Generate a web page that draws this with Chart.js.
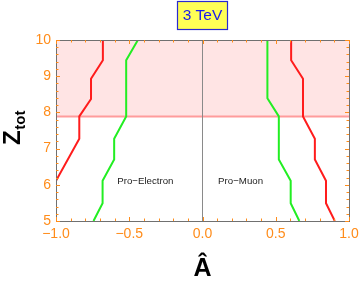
<!DOCTYPE html>
<html>
<head>
<meta charset="utf-8">
<script src="https://cdn.jsdelivr.net/npm/chart.js@4"></script>
<style>
html,body{margin:0;padding:0;background:#fff;}
#wrap{width:360px;height:285px;position:relative;}
</style>
</head>
<body>
<div id="wrap"><canvas id="c" width="360" height="285"></canvas></div>
<script>
// ---- data ----
const redLeftA    = [-0.68, -0.68, -0.761, -0.761, -0.841, -0.841, -1.0];
const redLeftZ    = [10, 9.44, 8.93, 8.37, 7.89, 7.27, 6.11];
const greenLeftA  = [-0.441, -0.521, -0.521, -0.603, -0.603, -0.682, -0.682, -0.744];
const greenLeftZ  = [10, 9.44, 7.89, 7.27, 6.70, 6.11, 5.49, 5];
const greenRightA = [0.443, 0.443, 0.521, 0.521, 0.602, 0.602, 0.661];
const greenRightZ = [10, 8.39, 7.89, 6.70, 6.11, 5.49, 5];
const redRightA   = [0.605, 0.605, 0.686, 0.686, 0.767, 0.767, 0.843, 0.843, 0.903];
const redRightZ   = [10, 9.44, 8.93, 7.89, 7.27, 6.70, 6.11, 5.49, 5];
const thresholdZ  = 7.89;
const xTicks      = [-1.0, -0.5, 0.0, 0.5, 1.0];
const xTickLabels = ['\u22121.0', '\u22120.5', '0.0', '0.5', '1.0'];
const yTicks      = [5, 6, 7, 8, 9, 10];
const yTickLabels = ['5', '6', '7', '8', '9', '10'];
const xMinor      = [-0.9,-0.8,-0.7,-0.6,-0.4,-0.3,-0.2,-0.1,0.1,0.2,0.3,0.4,0.6,0.7,0.8,0.9];
const yMinor      = [5.2,5.4,5.6,5.8,6.2,6.4,6.6,6.8,7.2,7.4,7.6,7.8,8.2,8.4,8.6,8.8,9.2,9.4,9.6,9.8];
const titleText   = '3 TeV';
const regionLabels = [{x: -0.39, y: 6.1, t: 'Pro\u2212Electron'}, {x: 0.26, y: 6.1, t: 'Pro\u2212Muon'}];

const pts = (xs, ys) => xs.map((v, i) => ({x: v, y: ys[i]}));

const ORANGE = '#ff8c1a';
const FRAME = '#707070';

const deco = {
  id: 'deco',
  afterDatasetsDraw(chart) {
    const ctx = chart.ctx;
    const xs = chart.scales.x, ys = chart.scales.y;
    const a = chart.chartArea;
    ctx.save();
    // region labels
    ctx.fillStyle = '#222';
    ctx.font = '9.7px "Liberation Sans", Arial, sans-serif';
    ctx.textAlign = 'center';
    ctx.textBaseline = 'middle';
    regionLabels.forEach(l => ctx.fillText(l.t, xs.getPixelForValue(l.x), ys.getPixelForValue(l.y)));
    // frame
    ctx.strokeStyle = FRAME;
    ctx.lineWidth = 1;
    ctx.strokeRect(Math.round(a.left) + 0.5, Math.round(a.top) + 0.5, Math.round(a.right - a.left), Math.round(a.bottom - a.top));
    // ticks
    ctx.strokeStyle = ORANGE;
    ctx.beginPath();
    const tx = (v, len) => {
      const p = Math.round(xs.getPixelForValue(v)) + 0.5;
      ctx.moveTo(p, a.bottom); ctx.lineTo(p, a.bottom - len);
      ctx.moveTo(p, a.top); ctx.lineTo(p, a.top + len);
    };
    const ty = (v, len) => {
      const p = Math.round(ys.getPixelForValue(v)) + 0.5;
      ctx.moveTo(a.left, p); ctx.lineTo(a.left + len, p);
      ctx.moveTo(a.right, p); ctx.lineTo(a.right - len, p);
    };
    xTicks.forEach(v => tx(v, 4));
    xMinor.forEach(v => tx(v, 2.5));
    yTicks.forEach(v => ty(v, 4));
    yMinor.forEach(v => ty(v, 2.5));
    ctx.stroke();
    // tick labels
    ctx.fillStyle = ORANGE;
    ctx.font = '14px "Liberation Sans", Arial, sans-serif';
    ctx.textAlign = 'center';
    ctx.textBaseline = 'middle';
    xTicks.forEach((v, i) => ctx.fillText(xTickLabels[i], xs.getPixelForValue(v), a.bottom + 13));
    ctx.textAlign = 'right';
    yTicks.forEach((v, i) => ctx.fillText(yTickLabels[i], a.left - 5, ys.getPixelForValue(v)));
    // x axis title
    ctx.fillStyle = '#000';
    ctx.font = 'bold 25px "Liberation Sans", Arial, sans-serif';
    ctx.textAlign = 'center';
    ctx.textBaseline = 'alphabetic';
    ctx.fillText('\u00C2', (a.left + a.right) / 2, 276);
    // y axis title Z_tot rotated
    ctx.save();
    ctx.translate(20, 128);
    ctx.rotate(-Math.PI / 2);
    ctx.textAlign = 'left';
    ctx.font = 'bold 24px "Liberation Sans", Arial, sans-serif';
    const zw = ctx.measureText('Z').width;
    ctx.font = 'bold 15px "Liberation Sans", Arial, sans-serif';
    const tw = ctx.measureText('tot').width;
    const start = -(zw + tw) / 2;
    ctx.font = 'bold 24px "Liberation Sans", Arial, sans-serif';
    ctx.fillText('Z', start, 0);
    ctx.font = 'bold 15px "Liberation Sans", Arial, sans-serif';
    ctx.fillText('tot', start + zw + 0.5, 5);
    ctx.restore();
    // title box
    ctx.fillStyle = '#ffff55';
    ctx.fillRect(177.5, 1.5, 50, 28);
    ctx.strokeStyle = '#2a2ad0';
    ctx.lineWidth = 1.2;
    ctx.strokeRect(177.5, 1.5, 50, 28);
    ctx.fillStyle = '#1a1aee';
    ctx.font = '15.5px "Liberation Sans", Arial, sans-serif';
    ctx.textAlign = 'center';
    ctx.textBaseline = 'middle';
    ctx.fillText(titleText, 202.5, 16);
    ctx.restore();
  }
};

const lineDs = (data, color, w, order) => ({
  data, borderColor: color, borderWidth: w, pointRadius: 0, showLine: true, fill: false, tension: 0, order
});

new Chart(document.getElementById('c'), {
  type: 'scatter',
  data: {
    datasets: [
      Object.assign(lineDs(pts([-1, 1], [thresholdZ, thresholdZ]), '#ff9c9c', 2, 10), {fill: 'end', backgroundColor: '#ffe4e4'}),
      lineDs(pts([0, 0], [5, 10]), '#8a8a8a', 1, 5),
      lineDs(pts(redLeftA, redLeftZ), '#ff1c1c', 2, 1),
      lineDs(pts(greenLeftA, greenLeftZ), '#22ee22', 2, 1),
      lineDs(pts(greenRightA, greenRightZ), '#22ee22', 2, 1),
      lineDs(pts(redRightA, redRightZ), '#ff1c1c', 2, 1)
    ]
  },
  options: {
    responsive: false,
    animation: false,
    devicePixelRatio: 1,
    layout: {padding: {left: 56, right: 11, top: 40, bottom: 64}},
    plugins: {legend: {display: false}, tooltip: {enabled: false}, title: {display: false}},
    scales: {
      x: {type: 'linear', min: -1, max: 1, display: false},
      y: {type: 'linear', min: 5, max: 10, display: false}
    }
  },
  plugins: [deco]
});
</script>
</body>
</html>
